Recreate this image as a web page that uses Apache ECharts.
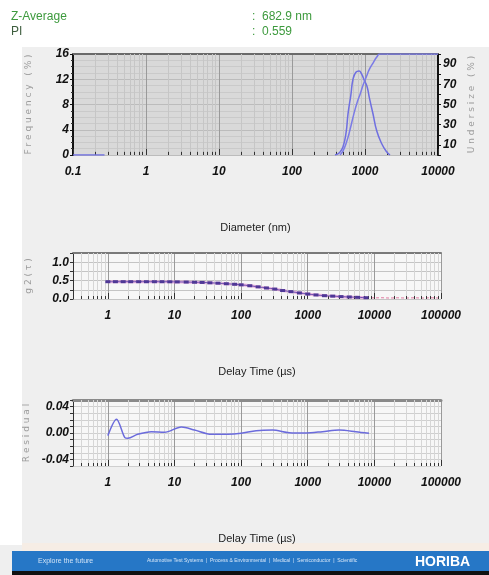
<!DOCTYPE html>
<html>
<head>
<meta charset="utf-8">
<script src="https://cdn.jsdelivr.net/npm/echarts@6/dist/echarts.min.js"></script>
<style>
  html, body { margin: 0; padding: 0; background: #efefef; }
  #chart { width: 489px; height: 575px; }
</style>
</head>
<body>
<div id="chart"></div>
<script>
// size distribution (frequency %, undersize %)
const freqDiameter = [388, 450, 500, 550, 585, 640, 685, 750, 828, 900, 980, 1064, 1150, 1288, 1450, 1710, 1950, 2200];
const freqValue = [0, 0.4, 1.3, 3.5, 6.5, 9.5, 12, 13.1, 13.3, 12.8, 11.8, 10.9, 9.0, 6.5, 3.8, 1.7, 0.6, 0];
const lowDiameter = [0.1, 0.27];
const lowValue = [0, 0];
const undersizeDiameter = [455, 500, 560, 623, 700, 780, 855, 950, 1050, 1150, 1288, 1450, 1600, 10000];
const undersizeValue = [0, 4, 13, 25, 40, 52, 60, 70, 78, 85, 91, 97, 100, 100];

// correlogram
const corrTau = [1, 1.3, 1.7, 2.2, 2.9, 3.8, 5, 6.5, 8.5, 11, 15, 20, 26, 34, 45, 60, 80, 100, 135, 180, 240, 320, 420, 560, 750, 1000, 1330, 1780, 2370, 3160, 4200, 5600, 7500];
const corrValue = [0.47, 0.47, 0.47, 0.47, 0.47, 0.47, 0.47, 0.47, 0.468, 0.465, 0.46, 0.455, 0.45, 0.44, 0.43, 0.415, 0.4, 0.385, 0.36, 0.33, 0.3, 0.27, 0.23, 0.2, 0.165, 0.135, 0.11, 0.09, 0.078, 0.065, 0.055, 0.045, 0.035];
const fitValue = [0.47, 0.47, 0.47, 0.47, 0.47, 0.47, 0.469, 0.468, 0.466, 0.463, 0.459, 0.454, 0.448, 0.44, 0.429, 0.414, 0.399, 0.384, 0.36, 0.331, 0.3, 0.268, 0.232, 0.198, 0.166, 0.136, 0.112, 0.092, 0.077, 0.064, 0.054, 0.045, 0.037];
const tailTau = [7500, 10000, 13000, 17000, 22000, 30000, 40000, 52000, 70000, 90000, 100000];
const tailValue = [0.037, 0.03, 0.034, 0.026, 0.033, 0.026, 0.033, 0.026, 0.033, 0.027, 0.03];

// residual
const resTau = [1, 1.35, 1.8, 2.0, 2.8, 4.5, 7.1, 12.7, 20, 36, 63, 100, 168, 295, 530, 940, 1660, 2970, 5280, 8300];
const resValue = [-0.004, 0.021, -0.007, -0.008, -0.002, 0.002, 0.001, 0.009, 0.0045, -0.002, -0.002, -0.0005, 0.0035, 0.0045, 0.0005, 0, 0.002, 0.0045, 0.002, -0.0005];

// tick labels
const diameterTicks = ["0.1", "1", "10", "100", "1000", "10000"];
const delayTicks = ["1", "10", "100", "1000", "10000", "100000"];
const freqTicks = ["0", "4", "8", "12", "16"];
const undersizeTicks = ["10", "30", "50", "70", "90"];
const corrTicks = ["0.0", "0.5", "1.0"];
const resTicks = ["-0.04", "0.00", "0.04"];

const sans = "'Liberation Sans', Arial, sans-serif";
const pairs = (xs, ys) => xs.map((x, i) => [x, ys[i]]);

const logLabel = (list) => (v) => {
  const s = v < 1 ? v.toFixed(1) : String(Math.round(v));
  const isPow = Math.abs(Math.log10(v) - Math.round(Math.log10(v))) < 1e-6;
  return isPow && list.includes(s) ? s : "";
};

// minor log grid lines and the little ticks on the bottom edge
function minorGrid(minX, maxX, yMin, tickH, color) {
  const lines = [];
  for (let e = -2; e < 6; e++) {
    for (let k = 2; k <= 9; k++) {
      const v = k * Math.pow(10, e);
      if (v <= minX * 1.0001 || v >= maxX) continue;
      lines.push({ xAxis: v, lineStyle: { color, width: 1, type: "solid" } });
      lines.push([{ coord: [v, yMin], lineStyle: { color: "#333", width: 1, type: "solid" } }, { coord: [v, yMin + tickH] }]);
    }
  }
  return lines;
}

const helper = (xi, yi, data) => ({
  type: "line", xAxisIndex: xi, yAxisIndex: yi, data: [], z: 1, silent: true,
  markLine: { silent: true, symbol: "none", label: { show: false }, animation: false, data }
});

const axisName = { color: "#222", fontSize: 11, fontFamily: sans };
const tickFont = { color: "#111", fontSize: 12, fontWeight: "bold", fontFamily: sans, fontStyle: "italic" };
const sideName = { color: "#9c9c9c", fontSize: 9, fontFamily: "'DejaVu Sans', sans-serif" };

const logX = (grid, min, max, ticks, name) => ({
  type: "log", gridIndex: grid, min, max, logBase: 10,
  name, nameLocation: "middle", nameGap: 67, nameTextStyle: axisName,
  axisLine: { show: false, onZero: false },
  axisTick: { show: true, inside: true, length: 6, lineStyle: { color: "#333" } },
  axisLabel: Object.assign({ margin: 11, formatter: logLabel(ticks), showMinLabel: true, showMaxLabel: true }, tickFont),
  splitLine: { show: true, lineStyle: { color: "#9a9a9a", width: 1 } }
});

const topBorder = (grid, color, width) => ({
  type: "value", gridIndex: grid, position: "top", min: 0, max: 1,
  axisLine: { show: true, onZero: false, lineStyle: { color, width } },
  axisTick: { show: false }, axisLabel: { show: false }, splitLine: { show: false }
});

const chart = echarts.init(document.getElementById("chart"), null, { renderer: "canvas" });

chart.setOption({
  animation: false,
  backgroundColor: "#efefef",
  grid: [
    { left: 73, top: 54, width: 365, height: 101, show: true, borderWidth: 0, backgroundColor: "#d9d9d9" },
    { left: 73, top: 253, width: 368, height: 46, show: true, borderWidth: 0, backgroundColor: "#f7f7f7" },
    { left: 73, top: 400, width: 368, height: 66, show: true, borderWidth: 0, backgroundColor: "#f7f7f7" }
  ],
  xAxis: [
    logX(0, 0.1, 10000, diameterTicks, "Diameter (nm)"),
    topBorder(0, "#6a6a6a", 2),
    logX(1, 0.3, 100000, delayTicks, "Delay Time (µs)"),
    topBorder(1, "#7a7a7a", 2),
    logX(2, 0.3, 100000, delayTicks, "Delay Time (µs)"),
    topBorder(2, "#8a8a8a", 3)
  ],
  yAxis: [
    {
      type: "value", gridIndex: 0, min: 0, max: 16, interval: 4,
      name: "F r e q u e n c y   ( % )", nameLocation: "middle", nameGap: 40, nameTextStyle: sideName,
      axisLine: { show: true, onZero: false, lineStyle: { color: "#111", width: 2 } },
      axisTick: { show: true, length: 3, lineStyle: { color: "#111" } },
      minorTick: { show: true, splitNumber: 4, length: 2, lineStyle: { color: "#333" } },
      axisLabel: Object.assign({ margin: 4, formatter: (v) => freqTicks.includes(String(v)) ? String(v) : "" }, tickFont),
      splitLine: { show: true, lineStyle: { color: "#bcbcbc" } },
      minorSplitLine: { show: true, lineStyle: { color: "#cacaca" } }
    },
    {
      type: "value", gridIndex: 0, position: "right", min: 0, max: 100, interval: 10,
      name: "U n d e r s i z e   ( % )", nameLocation: "middle", nameGap: 26, nameTextStyle: sideName,
      axisLine: { show: true, onZero: false, lineStyle: { color: "#111", width: 2 } },
      axisTick: { show: true, length: 3, lineStyle: { color: "#111" } },
      axisLabel: Object.assign({ margin: 5, formatter: (v) => undersizeTicks.includes(String(v)) ? String(v) : "" }, tickFont),
      splitLine: { show: false }
    },
    {
      type: "value", gridIndex: 1, min: 0, max: 1.25, interval: 0.25,
      name: "g 2 ( τ )", nameLocation: "middle", nameGap: 40, nameTextStyle: sideName,
      axisLine: { show: true, onZero: false, lineStyle: { color: "#333", width: 1 } },
      axisTick: { show: true, length: 3, lineStyle: { color: "#333" } },
      axisLabel: Object.assign({ margin: 4, formatter: (v) => { const s = v.toFixed(1); return corrTicks.includes(s) && Math.abs(v * 2 - Math.round(v * 2)) < 1e-6 ? s : ""; } }, tickFont),
      splitLine: { show: true, lineStyle: { color: "#c4c4c4" } }
    },
    {
      type: "value", gridIndex: 2, min: -0.05, max: 0.05, interval: 0.01,
      name: "R e s i d u a l", nameLocation: "middle", nameGap: 40, nameTextStyle: sideName,
      axisLine: { show: true, onZero: false, lineStyle: { color: "#333", width: 1 } },
      axisTick: { show: true, length: 3, lineStyle: { color: "#333" } },
      axisLabel: Object.assign({ margin: 4, formatter: (v) => { const s = (Math.round(v * 100) / 100).toFixed(2); return resTicks.includes(s) && Math.round(v * 100) % 4 === 0 ? s : ""; } }, tickFont),
      splitLine: { show: true, lineStyle: { color: "#cfcfcf" } }
    }
  ],
  series: [
    helper(0, 0, minorGrid(0.1, 10000, 0, 0.5, "#c6c6c6")),
    helper(2, 2, minorGrid(0.3, 100000, 0, 0.08, "#d6d6d6")),
    helper(4, 3, minorGrid(0.3, 100000, -0.05, 0.0045, "#d6d6d6")),
    {
      name: "Frequency", type: "line", xAxisIndex: 0, yAxisIndex: 0, smooth: true, showSymbol: false,
      data: pairs(freqDiameter, freqValue), lineStyle: { color: "#6f6fe0", width: 1.5 }, z: 5
    },
    {
      name: "FrequencyLow", type: "line", xAxisIndex: 0, yAxisIndex: 0, showSymbol: false,
      data: pairs(lowDiameter, lowValue), lineStyle: { color: "#6f6fe0", width: 1.5 }, z: 5
    },
    {
      name: "Undersize", type: "line", xAxisIndex: 0, yAxisIndex: 1, smooth: true, showSymbol: false,
      data: pairs(undersizeDiameter, undersizeValue), lineStyle: { color: "#7b7be6", width: 1.5 }, z: 5
    },
    {
      name: "Fit", type: "line", xAxisIndex: 2, yAxisIndex: 2, smooth: true, showSymbol: false,
      data: pairs(corrTau, fitValue), lineStyle: { color: "#e28ad0", width: 3, opacity: 0.6 }, z: 4
    },
    {
      name: "FitTail", type: "line", xAxisIndex: 2, yAxisIndex: 2, showSymbol: false,
      data: pairs(tailTau, tailValue),
      lineStyle: { color: "#e07aa0", width: 1, type: [3, 2] }, z: 4
    },
    {
      name: "Correlogram", type: "line", xAxisIndex: 2, yAxisIndex: 2, smooth: true, showSymbol: true,
      symbol: "rect", symbolSize: [5, 3], data: pairs(corrTau, corrValue),
      itemStyle: { color: "#4f3896" }, lineStyle: { color: "#6a4fb0", width: 1 }, z: 5
    },
    {
      name: "Residual", type: "line", xAxisIndex: 4, yAxisIndex: 3, smooth: 0.3, showSymbol: false,
      data: pairs(resTau, resValue), lineStyle: { color: "#6b6bdc", width: 1.5 }, z: 5
    }
  ],
  graphic: [
    { type: "rect", silent: true, z: -10, shape: { x: 0, y: 0, width: 489, height: 47 }, style: { fill: "#ffffff" } },
    { type: "rect", silent: true, z: -10, shape: { x: 0, y: 0, width: 22, height: 545 }, style: { fill: "#ffffff" } },
    { type: "rect", silent: true, z: -10, shape: { x: 22, y: 543, width: 467, height: 8 }, style: { fill: "#f6ede5" } },
    { type: "text", x: 11, y: 17, style: { text: "Z-Average", fill: "#3d9a3d", font: "12px " + sans, textVerticalAlign: "middle" } },
    { type: "text", x: 11, y: 32, style: { text: "PI", fill: "#3e5e3e", font: "12px " + sans, textVerticalAlign: "middle" } },
    { type: "text", x: 252, y: 17, style: { text: ":  682.9 nm", fill: "#3d9a3d", font: "12px " + sans, textVerticalAlign: "middle" } },
    { type: "text", x: 252, y: 32, style: { text: ":  0.559", fill: "#3d9a3d", font: "12px " + sans, textVerticalAlign: "middle" } },
    { type: "rect", silent: true, shape: { x: 12, y: 551, width: 477, height: 21 }, style: { fill: "#2677c6" } },
    { type: "rect", silent: true, shape: { x: 12, y: 571, width: 477, height: 4 }, style: { fill: "#111111" } },
    { type: "text", x: 38, y: 561, style: { text: "Explore the future", fill: "#cfe2f6", font: "7px " + sans, textVerticalAlign: "middle" } },
    { type: "text", x: 147, y: 561, style: { text: "Automotive Test Systems  |  Process & Environmental  |  Medical  |  Semiconductor  |  Scientific", fill: "#d6e6f8", font: "5px " + sans, textVerticalAlign: "middle" } },
    { type: "text", x: 415, y: 562, style: { text: "HORIBA", fill: "#ffffff", font: "bold 14px " + sans, textVerticalAlign: "middle" } }
  ]
});
</script>
</body>
</html>
